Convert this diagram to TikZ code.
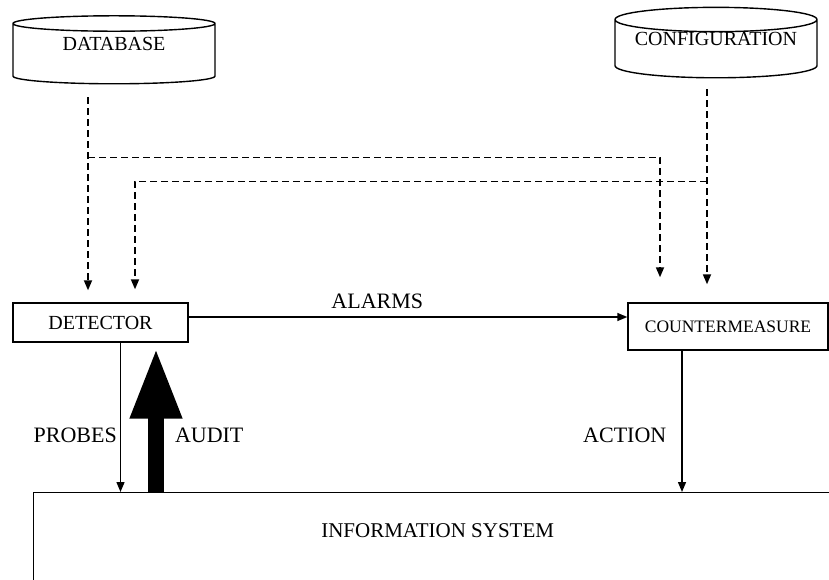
\documentclass[tikz,border=0pt]{standalone}
\usepackage{fontspec}
\setmainfont{Liberation Serif}
\usetikzlibrary{arrows.meta, positioning, shapes.geometric}

\begin{document}
\begin{tikzpicture}[
        x=1pt, y=-1pt,
        >={Triangle[length=10pt, width=8pt]},
        line width=1.4pt,
        store/.style={cylinder, shape border rotate=90, draw, aspect=0.15, minimum width=202pt, minimum height=68pt, inner sep=0pt, text depth=20pt, font=\fontsize{20}{24}\selectfont},
        unit/.style={rectangle, draw, inner sep=0pt, font=\fontsize{20}{24}\selectfont},
        lbl/.style={font=\fontsize{22}{26}\selectfont, inner sep=3pt},
        feed/.style={line width=1.7pt, dash pattern=on 7pt off 4pt, ->},
        audit/.style={line width=16pt, -{Triangle[length=71pt, width=48pt]}}
    ]
        \clip (0,0) rectangle (829,580);

        \node[store] (db) at (114,54) {DATABASE};
        \node[store] (cfg) at (716,49) {CONFIGURATION};
        \node[unit, minimum width=175pt, minimum height=39pt] (det) at (100.5,322.5) {DETECTOR};
        \node[unit, minimum width=200pt, minimum height=47pt, font=\fontsize{17.5}{21}\selectfont] (cm) at (728,326.5) {COUNTERMEASURE};
        \node[unit, anchor=north west, minimum width=808pt, inner ysep=31pt, text depth=130pt, font=\fontsize{21}{25}\selectfont] (info) at (33,492) {INFORMATION SYSTEM};

        % dashed feeds from the stores
        \coordinate (dbin) at ([xshift=-12.5pt, yshift=12pt]det.north);
        \coordinate (dbout) at ([yshift=-13pt]db.south -| dbin);
        \coordinate (tapdb) at ([yshift=-60pt]dbout);
        \coordinate (cmin1) at ([xshift=-68pt, yshift=25pt]cm.north);
        \coordinate (cmin2) at ([xshift=-21pt, yshift=18pt]cm.north);
        \coordinate (cfgout) at ([yshift=-11pt]cfg.south -| cmin2);
        \coordinate (tapcfg) at ([yshift=-92pt]cfgout);
        \coordinate (detin2) at ([xshift=34.5pt, yshift=13pt]det.north);

        \draw[feed] (dbout) -- (dbin);
        \draw[feed] (tapdb) -| (cmin1);
        \draw[feed] (cfgout) -- (cmin2);
        \draw[feed] (tapcfg) -| (detin2);

        % solid flows
        \draw[->] ([yshift=5.5pt]det.east) -- ([yshift=5.5pt]det.east -| cm.west)
            node[lbl, above=5pt, pos=0.43] {ALARMS};
        \draw[->] ([xshift=20pt]det.south) -- ([xshift=20pt]det.south |- info.north)
            node[lbl, left, pos=0.62] {PROBES};
        \draw[audit] ([xshift=55.5pt]det.south |- info.north) -- ([xshift=55.5pt, yshift=-5pt]det.south)
            node[lbl, right=8pt, pos=0.39] {AUDIT};
        \draw[->] ([xshift=-46pt]cm.south) -- ([xshift=-46pt]cm.south |- info.north)
            node[lbl, left=12pt, pos=0.6] {ACTION};
    \end{tikzpicture}
\end{document}
